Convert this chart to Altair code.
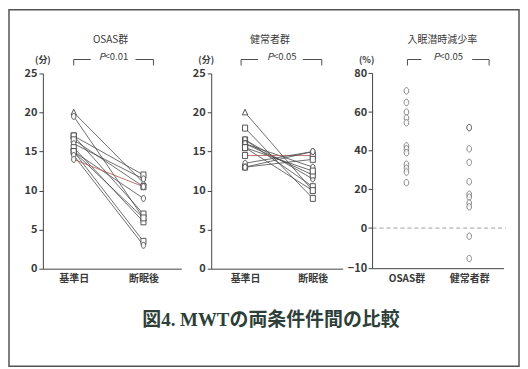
import altair as alt
import pandas as pd

# ---------------- data ----------------
conds = ["基準日", "断眠後"]

osas_base = [20.0, 19.5, 17.0, 17.0, 16.5, 16.0, 15.5, 15.0, 15.0, 15.0, 14.5, 14.0]
osas_after = [11.0, 6.5, 12.0, 7.0, 10.5, 11.5, 6.0, 3.5, 9.0, 6.5, 3.0, 10.5]
osas_shape = ["tri", "circ", "sq", "sq", "sq", "circ", "sq", "sq", "circ", "sq", "circ", "circ"]
osas_ink = ["k", "k", "k", "k", "k", "k", "k", "k", "k", "k", "k", "r"]

healthy_base = [20.0, 18.0, 16.5, 16.5, 16.0, 16.0, 15.5, 15.5, 14.5, 13.5, 13.0, 13.0]
healthy_after = [10.0, 9.0, 10.5, 11.5, 12.0, 13.0, 10.0, 12.5, 14.5, 15.0, 14.0, 15.0]
healthy_shape = ["tri", "sq", "sq", "circ", "sq", "circ", "sq", "sq", "sq", "circ", "sq", "circ"]
healthy_ink = ["k", "k", "k", "k", "k", "k", "k", "k", "r", "k", "k", "k"]

rate_groups = ["OSAS群", "健常者群"]
osas_rate = [71, 65, 60, 57, 54.5, 42.5, 41, 39, 33, 31, 29, 23.5]
healthy_rate = [52, 52, 41, 34, 24, 17.5, 16, 13, 11, -2, -7.5]
rate_ticks = [-10, 0, 20, 40, 60, 80]

# the original % axis is broken below zero: 0..-10 drawn ~2.1x taller than 10 units above zero
NEG_STRETCH = 2.1

FONT = "Noto Sans CJK JP"
INK = "#3a3a3a"
H = 196

OVAL = "M -0.72 0 A 0.72 1 0 1 1 0.72 0 A 0.72 1 0 1 1 -0.72 0 Z"
SQUARE = "M -0.85 -1 L 0.85 -1 L 0.85 1 L -0.85 1 Z"
TRI = "M 0 -1.1 L 0.9 0.8 L -0.9 0.8 Z"

one = alt.Data(values=[{"a": 1}])


def txt(s, x, y, size=10, weight="normal", font=FONT, color=INK, **kw):
    return alt.Chart(one).mark_text(
        fontSize=size, fontWeight=weight, font=font, color=color, **kw
    ).encode(x=alt.value(x), y=alt.value(y), text=alt.value(s))


def seg(x, x2, y, y2=None, color=INK, width=0.9):
    enc = dict(x=alt.value(x), y=alt.value(y))
    if y2 is None:
        enc["x2"] = alt.value(x2)
    else:
        enc["y2"] = alt.value(y2)
    return alt.Chart(one).mark_rule(color=color, strokeWidth=width).encode(**enc)


def bracket(x0, g0, g1, x1, y=-14, tick=6):
    return [seg(x0, g0, y), seg(g1, x1, y), seg(x0, None, y, y + tick), seg(x1, None, y, y + tick)]


def ptext(cx, val, y=-16):
    return [txt("P", cx - 9, y, size=9.5, fontStyle="italic", align="right"),
            txt("<" + val, cx - 9, y, size=9.5, align="left")]


def x_axis(domain=True):
    return alt.Axis(title=None, labelAngle=0, ticks=False, labelFontSize=10,
                    labelFontWeight="bold", labelPadding=5, labelColor=INK,
                    labelFont=FONT, domain=domain)


def y_axis(vals, pad=2, **kw):
    return alt.Axis(values=vals, title=None, grid=False, labelFontSize=11,
                    labelFontWeight="bold", tickSize=4, labelPadding=pad,
                    labelFont=FONT, labelColor=INK, labelOverlap=False,
                    tickCount=20, **kw)


def pair_panel(base, after, shapes, inks, width, pad, align, title, tx, unit_x, br, pcx, pval):
    rows = []
    for i, (b, a, s, k) in enumerate(zip(base, after, shapes, inks)):
        rows.append({"id": i, "cond": conds[0], "v": b, "shape": s, "ink": k})
        rows.append({"id": i, "cond": conds[1], "v": a, "shape": s, "ink": k})
    df = pd.DataFrame(rows)
    x = alt.X("cond:N", sort=conds, scale=alt.Scale(type="point", padding=pad, align=align), axis=x_axis())
    y = alt.Y("v:Q", scale=alt.Scale(domain=[0, 25]), axis=y_axis([0, 5, 10, 15, 20, 25]))
    lines = alt.Chart(df).mark_line(strokeWidth=0.8).encode(
        x=x, y=y, detail="id:N",
        color=alt.Color("ink:N", scale=alt.Scale(domain=["k", "r"], range=["#4a4a4a", "#b05050"]), legend=None),
    )
    pts = alt.Chart(df).mark_point(filled=True, fill="white", stroke="#444", strokeWidth=0.9, size=36, opacity=1).encode(
        x=x, y=y,
        shape=alt.Shape("shape:N", scale=alt.Scale(domain=["circ", "sq", "tri"], range=[OVAL, SQUARE, TRI]), legend=None),
    )
    ann = [txt(title, tx, -34), txt("(分)", unit_x, -13, size=9, weight="bold")] + ptext(pcx, pval) + bracket(*br)
    return alt.layer(lines, pts, *ann).properties(width=width, height=H)


p1 = pair_panel(osas_base, osas_after, osas_shape, osas_ink, 139, 0.4929, 0.449,
                "OSAS群", 68, 0, (31, 48, 93, 111), 71, "0.01")
border = alt.Chart(one).mark_rect(fill="transparent", stroke="#555", strokeWidth=1.5).encode(
    x=alt.value(-34), x2=alt.value(478), y=alt.value(-64), y2=alt.value(294))
main_title = txt("図4. MWTの両条件件間の比較", 229, 248, size=19, weight="bold",
                 font="Liberation Serif, Noto Sans CJK JP", color="#2d3f38")
p1 = alt.layer(p1, border, main_title)

p2 = pair_panel(healthy_base, healthy_after, healthy_shape, healthy_ink, 132, 0.4706, 0.531,
                "健常者群", 59, -5, (30, 47, 92, 111), 71, "0.05")

# panel 3
W3 = 132
rdf = pd.DataFrame(
    [{"g": rate_groups[0], "r": r} for r in osas_rate]
    + [{"g": rate_groups[1], "r": r} for r in healthy_rate]
)
stretch = f"datum.r < 0 ? datum.r * {NEG_STRETCH} : datum.r"
x3 = alt.X("g:N", sort=rate_groups, scale=alt.Scale(type="point", padding=0.5476, align=0.4928),
           axis=x_axis(domain=False))
yscale3 = alt.Scale(domain=[-10 * NEG_STRETCH, 80], nice=False, zero=False)
y3 = alt.Y("rp:Q", scale=yscale3,
           axis=y_axis([-10 * NEG_STRETCH, 0, 20, 40, 60, 80], pad=6, domain=False, ticks=False,
                       labelExpr=f"datum.value < 0 ? format(datum.value / {NEG_STRETCH}, 'd') : datum.label"))
rpts = alt.Chart(rdf).transform_calculate(rp=stretch).mark_point(
    filled=True, fill="white", stroke="#444", strokeWidth=0.9, size=42, shape=OVAL
).encode(x=x3, y=y3)
zero = alt.Chart(one).mark_rule(color="#888", strokeWidth=0.8, strokeDash=[4, 3]).encode(
    y=alt.datum(0), x=alt.value(0), x2=alt.value(134))
tick_df = pd.DataFrame({"r": rate_ticks})
ticks3 = alt.Chart(tick_df).transform_calculate(rp=stretch).mark_rule(color="#444", strokeWidth=1).encode(
    y=alt.Y("rp:Q", scale=yscale3), x=alt.value(-4), x2=alt.value(0))
axes3 = [seg(0, None, 0, H, color="#444", width=1), seg(0, W3, H, color="#444", width=1)]
ann3 = [txt("入眠潜時減少率", 70, -34), txt("(%)", -6, -13, size=9, weight="bold")] + ptext(76, "0.05") + bracket(35, 49, 100, 117)
p3 = alt.layer(rpts, zero, ticks3, *axes3, *ann3).properties(width=W3, height=H)

chart = alt.hconcat(p1, p2, p3, spacing=30, bounds="flush").properties(
    padding=0, background="white"
).configure_view(stroke=None).configure_axis(
    domainColor="#444", tickColor="#444", domainWidth=1
)

chart.save("out.html", embed_options={"renderer": "svg", "actions": False})
